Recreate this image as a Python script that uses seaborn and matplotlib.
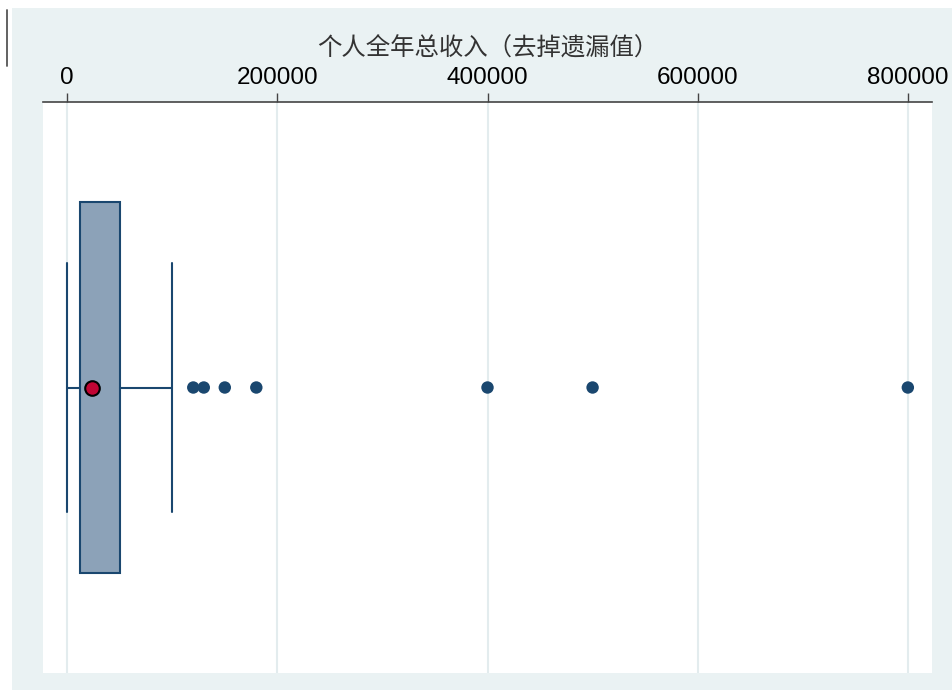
import matplotlib
matplotlib.use("Agg")
import matplotlib.pyplot as plt
from matplotlib.patches import Rectangle
from matplotlib.lines import Line2D
import seaborn as sns
import pandas as pd

# Summary statistics of personal annual income (missing values dropped)
whisker_low = 0
q1 = 12000
q3 = 50000
whisker_high = 100000
mean_income = 24000
outliers = [120000, 130000, 150000, 180000, 400000, 500000, 800000]
x_ticks = [0, 200000, 400000, 600000, 800000]
x_title = "个人全年总收入（去掉遗漏值）"

NAVY = "#1A476F"
BOX_FILL = "#8CA2B8"
PANEL = "#EAF2F3"
GRID = "#E3ECEE"

sns.set_theme(style="white")
plt.rcParams["font.family"] = ["Liberation Sans", "Noto Sans CJK SC", "DejaVu Sans"]

fig = plt.figure(figsize=(9.52, 6.90), dpi=100, facecolor="white")
W, H = 952, 690

# outer light panel behind the plot region
fig.patches.append(Rectangle((12 / W, 0), 1 - 12 / W, 1 - 8 / H,
                             transform=fig.transFigure, facecolor=PANEL,
                             edgecolor="none", zorder=-10))
fig.lines.append(Line2D([7 / W, 7 / W], [1 - 10 / H, 1 - 66 / H],
                        transform=fig.transFigure, color="#555555", lw=1.3,
                        zorder=-5))

ax = fig.add_axes([43 / W, 1 - 673 / H, 889 / W, 571 / H])
ax.set_zorder(1)
ax.set_facecolor("white")

stats = [{
    "whislo": whisker_low, "q1": q1, "med": q1, "q3": q3,
    "whishi": whisker_high, "fliers": [], "label": "",
}]
ax.bxp(stats, positions=[0], vert=False, widths=0.651, capwidths=0.436,
       patch_artist=True, showfliers=False,
       boxprops=dict(facecolor=BOX_FILL, edgecolor=NAVY, linewidth=1.5),
       whiskerprops=dict(color=NAVY, linewidth=1.5),
       capprops=dict(color=NAVY, linewidth=1.5),
       medianprops=dict(linewidth=0))

out_df = pd.DataFrame({"收入": outliers, "y": [0] * len(outliers)})
sns.scatterplot(data=out_df, x="收入", y="y", ax=ax, color=NAVY, s=80,
                edgecolor="none", zorder=4, legend=False)
mean_df = pd.DataFrame({"收入": [mean_income], "y": [0]})
sns.scatterplot(data=mean_df, x="收入", y="y", ax=ax, color="#C10534", s=110,
                edgecolor="black", linewidth=1.5, zorder=5, legend=False)

ax.set_xlim(-23000, 823000)
ax.set_ylim(-0.5, 0.5)
ax.set_xticks(x_ticks)
ax.set_xticklabels([str(t) for t in x_ticks])
ax.set_yticks([])
ax.set_ylabel("")
ax.xaxis.tick_top()
ax.xaxis.set_label_position("top")
ax.set_xlabel(x_title, fontsize=17.6, color="#333333", labelpad=8,
              family=["Noto Sans CJK SC", "DejaVu Sans"])
ax.tick_params(axis="x", which="major", top=True, bottom=False, length=6.5,
               width=1.0, color="#444444", pad=3, labelsize=17.5,
               labelcolor="black", direction="out")
ax.grid(axis="x", color=GRID, linewidth=1.5)
ax.set_axisbelow(True)
for side in ["left", "right", "bottom"]:
    ax.spines[side].set_visible(False)
ax.spines["top"].set_color("#444444")
ax.spines["top"].set_linewidth(1.2)

fig.savefig("out.png", dpi=100, facecolor=fig.get_facecolor())
